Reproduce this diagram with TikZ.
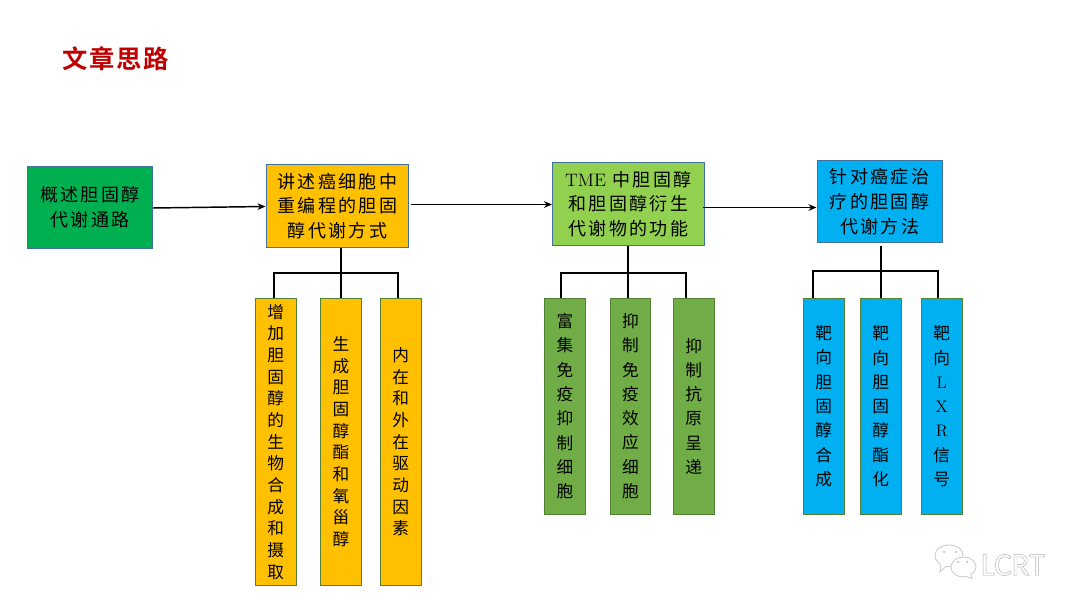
\documentclass[tikz,border=0pt]{standalone}
\usepackage{fontspec}
\newfontfamily\cjk[LetterSpace=13]{Noto Sans CJK SC}
\newfontfamily\cjkv{Noto Sans CJK SC}
\newfontfamily\cjkt[LetterSpace=7]{Noto Sans CJK SC Bold}
\newfontfamily\wmfont{Carlito}
\newcommand{\latinw}[1]{{\rmfamily\addfontfeature{LetterSpace=9}#1}}
\definecolor{cgreen}{HTML}{00B050}
\definecolor{cgold}{HTML}{FFC000}
\definecolor{clime}{HTML}{92D050}
\definecolor{csky}{HTML}{00B0F0}
\definecolor{cmoss}{HTML}{70AD47}
\definecolor{cblueline}{HTML}{41719C}
\definecolor{cgreenline}{HTML}{548235}
\definecolor{ctitle}{HTML}{C00000}
\usetikzlibrary{arrows.meta}
\tikzset{
  x=0.75pt,y=-0.75pt,
  headbox/.style={draw=cblueline,line width=0.75pt,inner sep=0pt,align=center,text=black,
    font=\fontsize{13.5pt}{18.6pt}\selectfont\cjk},
  subbox/.style={draw=cgreenline,line width=0.75pt,inner sep=0pt,align=center,text=black},
  tight/.style={font=\fontsize{12.5pt}{16.25pt}\selectfont\cjkv,execute at begin node={\rule{0pt}{13.2pt}}},
  loose/.style={font=\fontsize{12.5pt}{18.2pt}\selectfont\cjkv,execute at begin node={\rule{0pt}{12.4pt}}},
  flow/.style={draw=black,line width=1.1pt,-{Stealth[length=6pt,width=5pt]}},
  tree/.style={draw=black,line width=1.5pt},
  bubble/.style={draw=black!22,line width=0.6pt,fill=white},
}
\newcommand{\boxat}[7]{\node[#1,fill=#2,minimum width=#5*0.75pt-#3*0.75pt-0.75pt,minimum height=#6*0.75pt-#4*0.75pt-0.75pt,anchor=north west] (#7) at (#3,#4)}
\begin{document}
\begin{tikzpicture}
\useasboundingbox (0,0) rectangle (1080,610);
\fill[white] (0,0) rectangle (1080,610);
\node[anchor=center,text=ctitle,font=\fontsize{19pt}{22pt}\selectfont\cjkt] (title) at (116,59) {文章思路};

\boxat{headbox}{cgreen}{27}{166}{153}{249}{a} {概述胆固醇\\代谢通路};
\boxat{headbox}{cgold}{266}{164}{409}{248}{b} {讲述癌细胞中\\重编程的胆固\\醇代谢方式};
\boxat{headbox}{clime}{552}{162}{704.5}{246}{c} {\latinw{TME} 中胆固醇\\和胆固醇衍生\\代谢物的功能};
\boxat{headbox}{csky}{816.5}{160}{942.5}{243}{d} {针对癌症治\\疗的胆固醇\\代谢方法};

\boxat{subbox,tight}{cgold}{255}{298}{296.5}{585.5}{b1} {增\\加\\胆\\固\\醇\\的\\生\\物\\合\\成\\和\\摄\\取};
\boxat{subbox,tight}{cgold}{320}{298}{362}{585.5}{b2} {生\\成\\胆\\固\\醇\\酯\\和\\氧\\甾\\醇};
\boxat{subbox,tight}{cgold}{380}{298}{421.5}{585.5}{b3} {内\\在\\和\\外\\在\\驱\\动\\因\\素};

\boxat{subbox,loose}{cmoss}{544}{298}{586}{514.5}{c1} {富\\集\\免\\疫\\抑\\制\\细\\胞};
\boxat{subbox,loose}{cmoss}{610}{298}{651}{514.5}{c2} {抑\\制\\免\\疫\\效\\应\\细\\胞};
\boxat{subbox,loose}{cmoss}{673}{298}{714.5}{514.5}{c3} {抑\\制\\抗\\原\\呈\\递};

\boxat{subbox,loose}{csky}{803}{298}{844.5}{514.5}{d1} {靶\\向\\胆\\固\\醇\\合\\成};
\boxat{subbox,loose}{csky}{860}{298}{901.5}{514.5}{d2} {靶\\向\\胆\\固\\醇\\酯\\化};
\boxat{subbox,loose}{csky}{921}{298}{962.5}{514.5}{d3} {靶\\向\\{\rmfamily L}\\{\rmfamily X}\\{\rmfamily R}\\信\\号};

% flow arrows
\coordinate (abS) at (153,208);
\coordinate (abE) at (265.5,206.5);
\draw[flow] (abS) -- (abE);
\coordinate (bcS) at (411,204.5);
\draw[flow] (bcS) -- (c.west |- bcS);
\coordinate (cdS) at (703,207.5);
\draw[flow] (cdS) -- (d.west |- cdS);

% trees
\coordinate (bL) at (274,273);
\coordinate (bM) at (341,273);
\coordinate (bR) at (398,273);
\draw[tree] (bL |- b1.north) -- (bL) -- (bR) -- (bR |- b3.north);
\draw[tree] (bM |- b.south) -- (bM |- b2.north);

\coordinate (cL) at (561,272.5);
\coordinate (cM) at (628,272.5);
\coordinate (cR) at (686,272.5);
\draw[tree] (cL |- c1.north) -- (cL) -- (cR) -- (cR |- c3.north);
\draw[tree] (cM |- c.south) -- (cM |- c2.north);

\coordinate (dL) at (813,271);
\coordinate (dM) at (880.5,271);
\coordinate (dR) at (938,271);
\coordinate (dTop) at (880.5,245.5);
\draw[tree] (dL |- d1.north) -- (dL) -- (dR) -- (dR |- d3.north);
\draw[tree] (dTop) -- (dM |- d2.north);

% watermark
\filldraw[bubble] (946,566.5) -- (940,572) -- (941,565)
   .. controls (937,562) and (935,559) .. (935,556)
   .. controls (935,549) and (941,545) .. (949,545)
   .. controls (957,545) and (963,549) .. (963,556)
   .. controls (963,563) and (955,567) .. (946,566.5) -- cycle;
\filldraw[bubble] (966,576.5) .. controls (957,578) and (951,573) .. (951,567)
   .. controls (951,561) and (957,557) .. (963.5,557)
   .. controls (970,557) and (976,561) .. (976,567)
   .. controls (976,570) and (974,573) .. (971,574.5)
   -- (972,578.5) -- cycle;
\fill[black!30] (944,552) circle (1) (956,552) circle (1) (958,562) circle (1) (967,562) circle (1);
\node[anchor=center,text=black!30,font=\fontsize{24.5pt}{30pt}\selectfont\wmfont] (wm) at (1013,565) {\special{pdf:code 1 Tr 0.35 w}LCRT\special{pdf:code 0 Tr}};
\end{tikzpicture}
\end{document}
